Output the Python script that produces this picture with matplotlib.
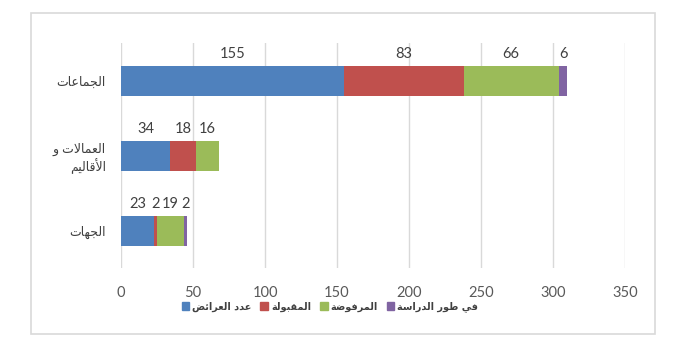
import numpy as np
import matplotlib.pyplot as plt
from matplotlib.patches import Patch, Rectangle

# chart data
categories = ['الجماعات', 'العمالات و\nالأقاليم', 'الجهات']
series_names = ['عدد العرائض', 'المقبولة', 'المرفوضة', 'في طور الدراسة']
total = [155, 34, 23]
accepted = [83, 18, 2]
rejected = [66, 16, 19]
pending = [6, 0, 2]
colors = ['#4F81BD', '#C0504D', '#9BBB59', '#8064A2']
x_ticks = [0, 50, 100, 150, 200, 250, 300, 350]

# matplotlib has no arabic shaping, so pick presentation forms by hand
ARABIC = {
    'ا': (0xFE8D, False), 'أ': (0xFE83, False), 'ب': (0xFE8F, True),
    'ة': (0xFE93, False), 'ت': (0xFE95, True), 'ج': (0xFE9D, True),
    'د': (0xFEA9, False), 'ر': (0xFEAD, False), 'س': (0xFEB1, True),
    'ض': (0xFEBD, True), 'ط': (0xFEC1, True), 'ع': (0xFEC9, True),
    'ف': (0xFED1, True), 'ق': (0xFED5, True), 'ل': (0xFEDD, True),
    'م': (0xFEE1, True), 'ه': (0xFEE9, True), 'و': (0xFEED, False),
    'ي': (0xFEF1, True), 'ئ': (0xFE89, True),
}
LAM_ALEF = {'ا': 0xFEFB, 'أ': 0xFEF7}


def shape_line(text):
    out = []
    i, n = 0, len(text)
    while i < n:
        c = text[i]
        if c not in ARABIC:
            out.append(c)
            i += 1
            continue
        prev = text[i - 1] if i > 0 else None
        join_prev = prev in ARABIC and ARABIC[prev][1]
        if c == 'ل' and i + 1 < n and text[i + 1] in LAM_ALEF:
            out.append(chr(LAM_ALEF[text[i + 1]] + (1 if join_prev else 0)))
            i += 2
            continue
        base, dual = ARABIC[c]
        nxt = text[i + 1] if i + 1 < n else None
        join_next = dual and nxt in ARABIC
        if join_prev and join_next:
            code = base + 3
        elif join_prev:
            code = base + 1
        elif join_next:
            code = base + 2
        else:
            code = base
        out.append(chr(code))
        i += 1
    return ''.join(reversed(out))


def shape(text):
    return '\n'.join(shape_line(t) for t in text.split('\n'))


plt.rcParams['font.family'] = ['Lato', 'DejaVu Sans']

fig = plt.figure(figsize=(6.96, 3.57), dpi=100)
fig.patches.append(Rectangle((31 / 696, 1 - 334 / 357), 624 / 696, 321 / 357,
                             transform=fig.transFigure, fill=False,
                             edgecolor='#D9D9D9', linewidth=1.2))
ax = fig.add_axes([121 / 696, 1 - 268 / 357, 504 / 696, 225 / 357])

y = np.arange(len(categories))
series = [total, accepted, rejected, pending]
left = np.zeros(len(categories))
for vals, name, col in zip(series, series_names, colors):
    vals = np.array(vals, dtype=float)
    ax.barh(y, vals, left=left, height=0.4, color=col, label=name)
    for yi, l, v in zip(y, left, vals):
        if v > 0:
            ax.annotate(f'{int(v)}', xy=(l + v / 2, yi - 0.2), xytext=(0, 3),
                        textcoords='offset points', ha='center', va='bottom',
                        fontsize=10.5, color='#404040')
    left += vals

ax.set_xlim(0, 350)
ax.set_ylim(2.5, -0.5)
ax.set_xticks(x_ticks)
ax.set_yticks(y)
ax.set_yticklabels([shape(c) for c in categories], family='DejaVu Sans',
                   fontsize=9, color='#404040')
ax.tick_params(axis='x', length=0, pad=13, labelsize=10.5, labelcolor='#595959')
ax.tick_params(axis='y', length=0, pad=11)
ax.grid(axis='x', color='#D9D9D9', linewidth=1)
ax.set_axisbelow(True)
for s in ax.spines.values():
    s.set_visible(False)

handles = [Patch(color=c) for c in colors]
fig.legend(handles, [shape(n) for n in series_names], loc='center',
           bbox_to_anchor=(330 / 696, 1 - 307 / 357), ncol=4, frameon=False,
           prop={'family': 'DejaVu Sans', 'weight': 'bold', 'size': 7},
           handlelength=0.8, handleheight=0.8, handletextpad=0.3,
           columnspacing=0.9, labelcolor='#404040', borderpad=0.2)

plt.savefig('out.png', dpi=100)
plt.close()
